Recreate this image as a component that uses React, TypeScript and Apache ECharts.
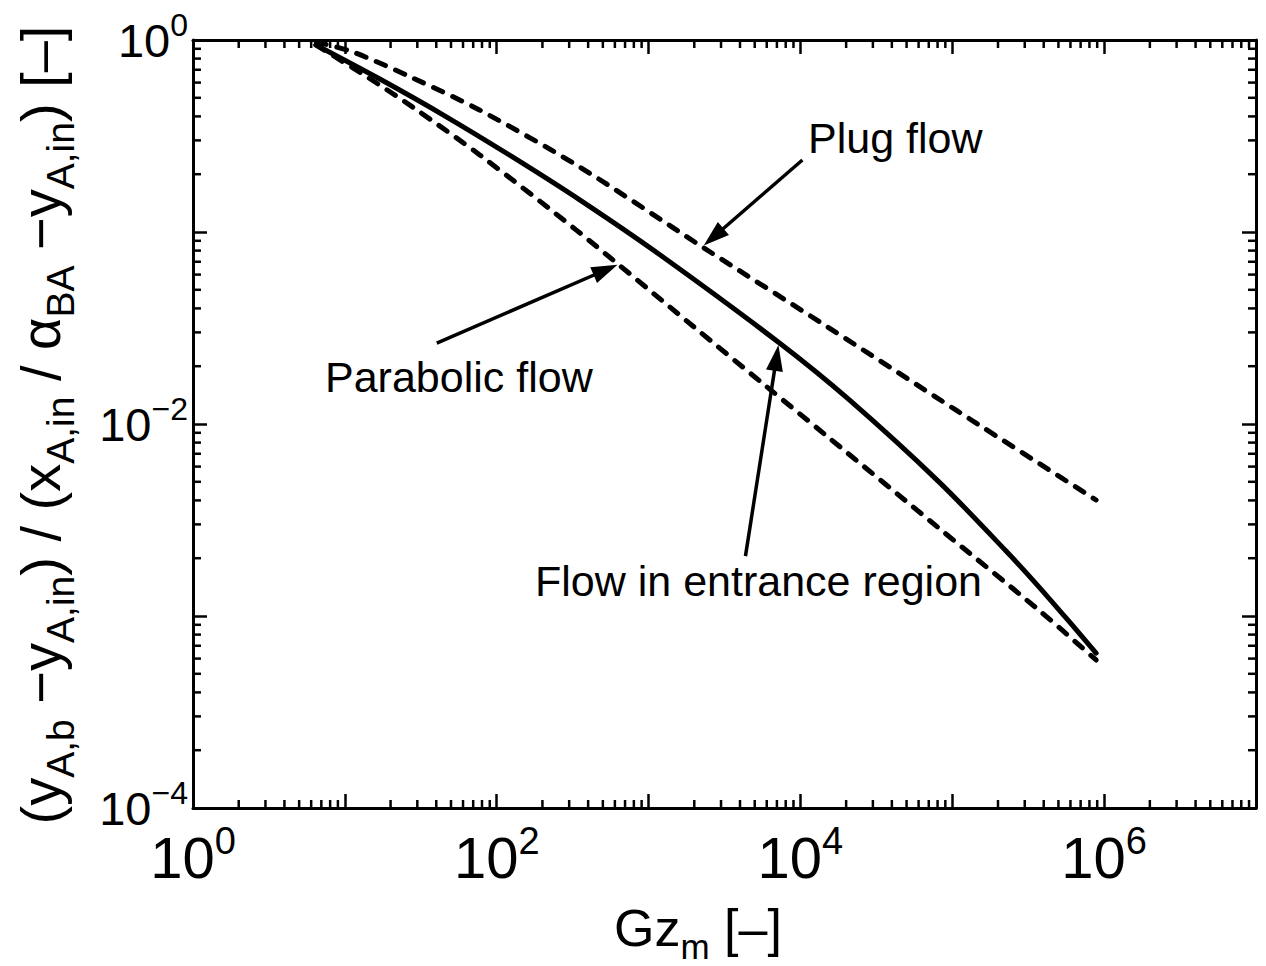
import React, { useEffect, useRef } from "react";
import * as echarts from "echarts";

// ---- data ----
const plugGz = [6.5, 11.3, 28, 77, 352, 2265, 15500, 106000, 885000];
const plugY = [0.975, 0.866, 0.634, 0.432, 0.218, 0.0835, 0.0316, 0.0118, 0.00402];

const entranceGz = [6.45, 17, 46.9, 127, 352, 1181, 7280, 21000, 82000, 226000, 373000, 615000, 885000];
const entranceY = [0.942, 0.626, 0.397, 0.246, 0.147, 0.0763, 0.0264, 0.01334, 0.00498, 0.00218, 0.001415, 0.000898, 0.000641];

const parabolicGz = [6.45, 13.95, 28, 77.3, 336, 1946, 5970, 14830, 82000, 373000, 885000];
const parabolicY = [0.942, 0.644, 0.447, 0.252, 0.102, 0.0325, 0.01568, 0.00869, 0.00286, 0.00107, 0.00059];

// annotation arrows: [tailGz, tailY, headGz, headY]
const arrowPlug = [10300, 0.237, 2680, 0.0942];
const arrowParabolic = [40.3, 0.0264, 521, 0.0634];
const arrowEntrance = [4345, 0.00205, 6950, 0.0221];

const X_MIN = 1;
const X_MAX = 1e7;
const Y_MIN = 1e-4;
const Y_MAX = 1;

const minorX: number[] = [];
for (let k = 0; k < 7; k++) for (let m = 2; m <= 9; m++) minorX.push(m * Math.pow(10, k));
const minorY: number[] = [];
for (let k = -4; k < 0; k++) for (let m = 2; m <= 9; m++) minorY.push(m * Math.pow(10, k));

const FONT = "'Liberation Sans', Arial, Helvetica, sans-serif";
const MINOR = 8;
const MAJOR = 14;

const zip = (xs: number[], ys: number[]) => xs.map((x, i) => [x, ys[i]]);

const expLabel = (v: number) => {
  const e = Math.round(Math.log10(v));
  if (e % 2 !== 0) return "";
  return `{b|10}{t|${e < 0 ? "\u2212" + -e : e}}`;
};

export default function App() {
  const ref = useRef<HTMLDivElement>(null);

  useEffect(() => {
    if (!ref.current) return;
    const chart = echarts.init(ref.current, undefined, { renderer: "svg" });

    const tickStyle = { stroke: "#000", lineWidth: 2.5 };

    const axisCommon = {
      type: "log" as const,
      logBase: 10,
      axisLine: { show: true, onZero: false, lineStyle: { color: "#000", width: 3 } },
      axisTick: { show: true, inside: true, length: MAJOR, lineStyle: { color: "#000", width: 2.5 } },
      splitLine: { show: false },
      minorTick: { show: false },
    };

    const curveLine = (name: string, data: number[][], dashed: boolean, extra: any = {}) => ({
      name,
      type: "line",
      data,
      showSymbol: false,
      symbol: "none",
      smooth: 0.3,
      xAxisIndex: 0,
      yAxisIndex: 0,
      lineStyle: {
        color: "#000",
        width: 5,
        type: dashed ? [10, 11] : "solid",
        cap: "round",
      },
      z: 3,
      ...extra,
    });

    const arrowData = [arrowPlug, arrowParabolic, arrowEntrance].map((a) => [
      { coord: [a[0], a[1]] },
      { coord: [a[2], a[3]] },
    ]);

    const option: any = {
      animation: false,
      backgroundColor: "#fff",
      grid: { left: 193, right: 10, top: 40, bottom: 158, containLabel: false },
      xAxis: [
        {
          ...axisCommon,
          position: "bottom",
          min: X_MIN,
          max: X_MAX,
          axisLabel: {
            show: true,
            margin: 14,
            formatter: expLabel,
            rich: {
              b: { fontSize: 58, lineHeight: 70, fontFamily: FONT, color: "#000" },
              t: { fontSize: 38, lineHeight: 38, fontFamily: FONT, color: "#000", verticalAlign: "top" },
            },
          },
        },
        {
          ...axisCommon,
          position: "top",
          min: X_MIN,
          max: X_MAX,
          axisLabel: { show: false },
        },
      ],
      yAxis: [
        {
          ...axisCommon,
          position: "left",
          min: Y_MIN,
          max: Y_MAX,
          axisLabel: {
            show: true,
            margin: 5,
            formatter: expLabel,
            rich: {
              b: { fontSize: 47, lineHeight: 62, fontFamily: FONT, color: "#000" },
              t: { fontSize: 32, lineHeight: 32, fontFamily: FONT, color: "#000", verticalAlign: "top" },
            },
          },
        },
        {
          ...axisCommon,
          position: "right",
          min: Y_MIN,
          max: Y_MAX,
          axisLabel: { show: false },
        },
      ],
      series: [
        curveLine("Plug flow", zip(plugGz, plugY), true, {
          markLine: {
            silent: true,
            symbol: ["none", "triangle"],
            symbolSize: [17, 26],
            label: { show: false },
            lineStyle: { color: "#000", width: 3.5, type: "solid" },
            itemStyle: { color: "#000" },
            data: arrowData,
          },
        }),
        curveLine("Flow in entrance region", zip(entranceGz, entranceY), false),
        curveLine("Parabolic flow", zip(parabolicGz, parabolicY), true),
        {
          type: "custom",
          name: "minorX",
          xAxisIndex: 0,
          yAxisIndex: 0,
          silent: true,
          data: minorX.map((v) => [v, Y_MIN]),
          renderItem: (_p: any, api: any) => {
            const v = api.value(0);
            const b = api.coord([v, Y_MIN]);
            const t = api.coord([v, Y_MAX]);
            return {
              type: "group",
              children: [
                { type: "line", shape: { x1: b[0], y1: b[1], x2: b[0], y2: b[1] - MINOR }, style: tickStyle },
                { type: "line", shape: { x1: t[0], y1: t[1], x2: t[0], y2: t[1] + MINOR }, style: tickStyle },
              ],
            };
          },
        },
        {
          type: "custom",
          name: "minorY",
          xAxisIndex: 0,
          yAxisIndex: 0,
          silent: true,
          data: minorY.map((v) => [X_MIN, v]),
          renderItem: (_p: any, api: any) => {
            const v = api.value(1);
            const l = api.coord([X_MIN, v]);
            const r = api.coord([X_MAX, v]);
            return {
              type: "group",
              children: [
                { type: "line", shape: { x1: l[0], y1: l[1], x2: l[0] + MINOR, y2: l[1] }, style: tickStyle },
                { type: "line", shape: { x1: r[0], y1: r[1], x2: r[0] - MINOR, y2: r[1] }, style: tickStyle },
              ],
            };
          },
        },
      ],
      graphic: [
        {
          type: "text",
          x: 808,
          y: 138,
          style: { text: "Plug flow", fontSize: 43, fontFamily: FONT, fill: "#000", align: "left", verticalAlign: "middle" },
        },
        {
          type: "text",
          x: 325,
          y: 377,
          style: { text: "Parabolic flow", fontSize: 43, fontFamily: FONT, fill: "#000", align: "left", verticalAlign: "middle" },
        },
        {
          type: "text",
          x: 535,
          y: 581,
          style: {
            text: "Flow in entrance region",
            fontSize: 43,
            fontFamily: FONT,
            fill: "#000",
            align: "left",
            verticalAlign: "middle",
          },
        },
        {
          type: "text",
          x: 698,
          y: 928,
          style: {
            text: "{m|Gz}{s|m}{m| [\u2013]}",
            align: "center",
            verticalAlign: "middle",
            rich: {
              m: { fontSize: 52, lineHeight: 72, fontFamily: FONT, fill: "#000", color: "#000" },
              s: { fontSize: 35, lineHeight: 35, fontFamily: FONT, fill: "#000", color: "#000", verticalAlign: "bottom" },
            },
          },
        },
        {
          type: "text",
          x: 40,
          y: 425,
          rotation: Math.PI / 2,
          style: {
            text:
              "{m|(y}{s|A,b}{m| \u2212y}{s|A,in}{m|) / (x}{s|A,in}{m| / \u03b1}{s|BA}{m| \u2212y}{s|A,in}{m|) [\u2013]}",
            align: "center",
            verticalAlign: "middle",
            rich: {
              m: { fontSize: 56, lineHeight: 80, fontFamily: FONT, fill: "#000", color: "#000" },
              s: { fontSize: 39, lineHeight: 39, fontFamily: FONT, fill: "#000", color: "#000", verticalAlign: "bottom" },
            },
          },
        },
      ],
    };

    chart.setOption(option);
    return () => chart.dispose();
  }, []);

  return (
    <div
      ref={ref}
      style={{ position: "absolute", left: 0, top: 0, width: 1266, height: 966, background: "#fff" }}
    />
  );
}
